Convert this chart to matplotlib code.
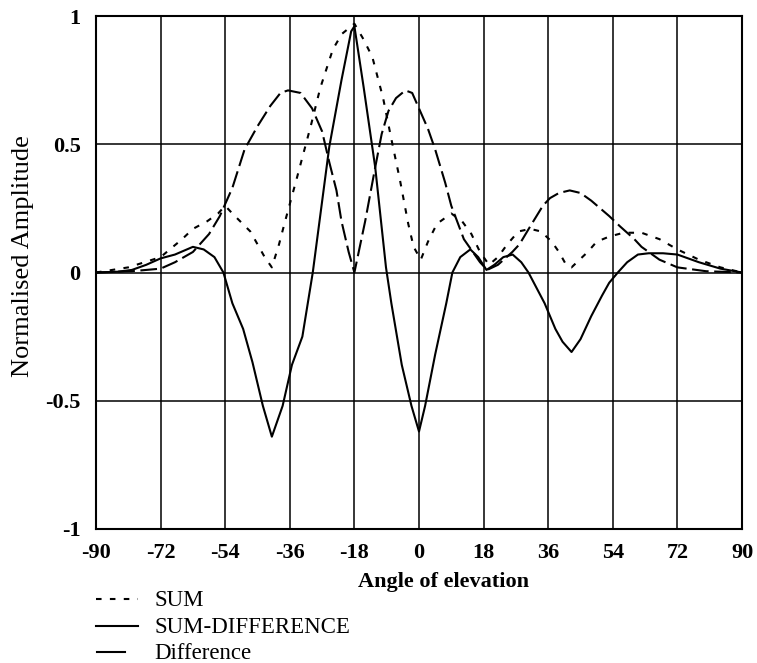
import matplotlib
matplotlib.use("Agg")
import matplotlib.pyplot as plt
from matplotlib.lines import Line2D

plt.rcParams['font.family'] = ['Liberation Serif', 'DejaVu Serif']
plt.rcParams['lines.scale_dashes'] = False

# ---- data ----
x_ticks = [-90, -72, -54, -36, -18, 0, 18, 36, 54, 72, 90]
y_ticks = [-1, -0.5, 0, 0.5, 1]
y_tick_labels = ['-1', '-0.5', '0', '0.5', '1']

sum_x = [-90, -81, -72, -66, -63, -59, -56, -54, -52, -47, -43, -41, -39, -37.5, -34, -30,
         -27.5, -24, -21.5, -18, -15.5, -13, -11.5, -10, -7.7, -5.3, -3, -1.5, 0.5, 2.5, 5,
         9, 12, 14.6, 17, 19.5, 22, 24.6, 27.7, 31, 34, 37, 39, 41, 42.5, 44, 47, 49.5, 53,
         57, 62, 67, 72, 78, 84, 90]
sum_y = [0, 0.02, 0.06, 0.13, 0.17, 0.2, 0.23, 0.26, 0.23, 0.16, 0.06, 0.02, 0.11, 0.19,
         0.37, 0.58, 0.72, 0.87, 0.93, 0.97, 0.91, 0.84, 0.76, 0.68, 0.52, 0.36, 0.19, 0.1,
         0.05, 0.12, 0.19, 0.23, 0.2, 0.15, 0.08, 0.03, 0.06, 0.11, 0.16, 0.17, 0.16, 0.12,
         0.08, 0.03, 0.02, 0.04, 0.08, 0.12, 0.14, 0.155, 0.155, 0.13, 0.09, 0.05, 0.02, 0]

diff_x = [-90, -80, -72, -68, -63, -58.5, -55.5, -52, -48.6, -45, -41.4, -38.6, -36.5, -33,
          -29.8, -27, -25, -23, -21.6, -19.6, -18, -15, -12.2, -10.4, -8.5, -6.4, -3.8, -1.9,
          0.3, 2.5, 4.5, 7.3, 9, 12.5, 14.5, 17, 19, 22, 26, 28, 31, 34.5, 36.5, 39, 42, 45,
          48, 53, 56, 60, 62, 67, 72, 80, 90]
diff_y = [0, 0.005, 0.015, 0.04, 0.08, 0.15, 0.22, 0.33, 0.48, 0.57, 0.65, 0.70, 0.71,
          0.70, 0.64, 0.55, 0.43, 0.32, 0.2, 0.08, 0.0, 0.2, 0.41, 0.54, 0.63, 0.68, 0.71,
          0.70, 0.63, 0.56, 0.48, 0.35, 0.26, 0.13, 0.09, 0.04, 0.01, 0.03, 0.08, 0.11, 0.18,
          0.26, 0.29, 0.31, 0.32, 0.31, 0.28, 0.22, 0.18, 0.13, 0.1, 0.05, 0.02, 0.005, 0]

sd_x = [-90, -84, -80, -76, -72, -68, -63, -60, -57, -54.5, -52, -49, -46.4, -43.5, -41, -38,
        -35.4, -32.5, -29.6, -25, -21.6, -18.9, -18, -15.4, -12.2, -9.2, -7.7, -4.8, -2.1, 0,
        1.7, 4.5, 7.6, 9.3, 11.5, 14.3, 16.5, 18.8, 21, 23.5, 26.1, 28.5, 30.5, 32, 35, 38, 40,
        42.5, 45, 48, 51, 53, 55.4, 58, 61, 64, 68, 72, 78, 84, 90]
sd_y = [0, 0.003, 0.01, 0.03, 0.055, 0.07, 0.1, 0.09, 0.06, 0.0, -0.12, -0.22, -0.35, -0.52,
        -0.64, -0.52, -0.36, -0.25, 0.0, 0.49, 0.75, 0.94, 0.96, 0.72, 0.41, 0.02, -0.12,
        -0.36, -0.52, -0.62, -0.52, -0.32, -0.12, 0.0, 0.06, 0.09, 0.06, 0.01, 0.03, 0.06,
        0.07, 0.04, 0.0, -0.04, -0.12, -0.22, -0.27, -0.31, -0.26, -0.17, -0.09, -0.04, 0.0,
        0.04, 0.07, 0.075, 0.075, 0.07, 0.04, 0.015, 0]

labels = ['SUM', 'SUM-DIFFERENCE', 'Difference']

# ---- figure ----
W, H = 757, 663
fig = plt.figure(figsize=(W / 100, H / 100), dpi=100)
ax = fig.add_axes([96 / W, 1 - 529 / H, (742 - 96) / W, (529 - 16) / H])

sum_dash = (4, 6)
diff_dash = (12, 4)

ax.plot(sum_x, sum_y, color='black', lw=1.5, dashes=sum_dash)
ax.plot(sd_x, sd_y, color='black', lw=1.5)
ax.plot(diff_x, diff_y, color='black', lw=1.5, dashes=diff_dash)

ax.set_xlim(-90, 90)
ax.set_ylim(-1, 1)
ax.set_xticks(x_ticks)
ax.set_xticklabels([str(v) for v in x_ticks], fontsize=16, fontweight='bold')
ax.set_yticks(y_ticks)
ax.set_yticklabels(y_tick_labels, fontsize=16, fontweight='bold')
ax.tick_params(axis='x', length=0, pad=10)
ax.tick_params(axis='y', length=0, pad=11)
ax.grid(True, color='black', lw=1.1)
ax.set_axisbelow(True)
for s in ax.spines.values():
    s.set_linewidth(1.5)

fig.text(443 / W, 1 - 582 / H, 'Angle of elevation', ha='center', va='center',
         fontsize=16, fontweight='bold')
fig.text(23 / W, 1 - 256 / H, 'Normalised Amplitude', ha='center', va='center',
         rotation=90, fontsize=19)

# ---- legend (manual, below the axes) ----
rows = [599, 626, 652]
segs = [(96, 138), (96, 138), (97, 125)]
styles = [dict(dashes=sum_dash), dict(), dict()]
for lab, ry, (x0, x1), st in zip(labels, rows, segs, styles):
    ln = Line2D([x0 / W, x1 / W], [1 - ry / H, 1 - ry / H], transform=fig.transFigure,
                color='black', lw=1.5, **st)
    fig.add_artist(ln)
    fig.text(154 / W, 1 - (ry + 7) / H, lab, ha='left', va='baseline', fontsize=16.5)

fig.savefig('out.png', dpi=100)
